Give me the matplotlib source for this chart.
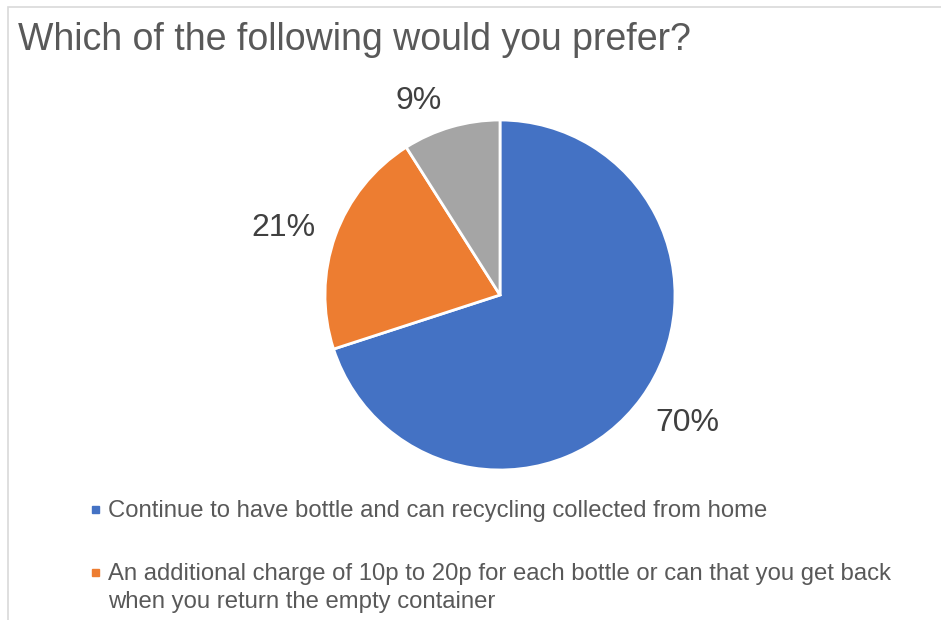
import matplotlib.pyplot as plt
from matplotlib.patches import Rectangle

# data
categories = ["Continue to have bottle and can recycling collected from home",
              "An additional charge of 10p to 20p for each bottle or can that you get back\nwhen you return the empty container",
              "Other"]
shares = [70, 21, 9]
colors = ["#4472C4", "#ED7D31", "#A5A5A5"]
title = "Which of the following would you prefer?"

plt.rcParams['font.family'] = ['Liberation Sans', 'DejaVu Sans']

W, H = 941, 620
fig = plt.figure(figsize=(W / 100, H / 100), dpi=100)

# chart frame (only top/left visible in the crop)
fig.patches.append(Rectangle((8 / W, -0.1), 1.2, 1 - 7 / H + 0.1, transform=fig.transFigure,
                             fill=False, edgecolor="#D9D9D9", linewidth=1.2))

fig.text(18 / W, 1 - 50 / H, title, fontsize=27, color="#595959", va="baseline", ha="left")

# pie
cx, cy, r = 500, 295, 175
ax = fig.add_axes([(cx - r) / W, (H - cy - r) / H, 2 * r / W, 2 * r / H])
wedges, texts = ax.pie(shares, colors=colors, startangle=90, counterclock=False,
                       labels=[f"{s}%" for s in shares], labeldistance=1.27,
                       wedgeprops=dict(edgecolor="white", linewidth=2))
# small nudges so labels sit where excel put them
nudge = [(0.045, 0.017), (-0.045, -0.05), (-0.11, -0.11)]
for t, (dx, dy) in zip(texts, nudge):
    x, y = t.get_position()
    t.set_position((x + dx, y + dy))
    t.set_fontsize(23)
    t.set_color("#404040")
    t.set_ha("center")
    t.set_va("center")
ax.set_xlim(-1, 1)
ax.set_ylim(-1, 1)
ax.set_aspect("equal")

# legend (only first two entries are visible)
leg_y = [509, 572]
for i, y in enumerate(leg_y):
    fig.patches.append(Rectangle((92 / W, 1 - (y + 4) / H), 7 / W, 7 / H,
                                 transform=fig.transFigure, color=wedges[i].get_facecolor()))
    fig.text(108 / W, 1 - (y - 9) / H, categories[i], fontsize=17.2, color="#595959",
             ha="left", va="top", linespacing=1.34)

fig.savefig("out.png", dpi=100)
